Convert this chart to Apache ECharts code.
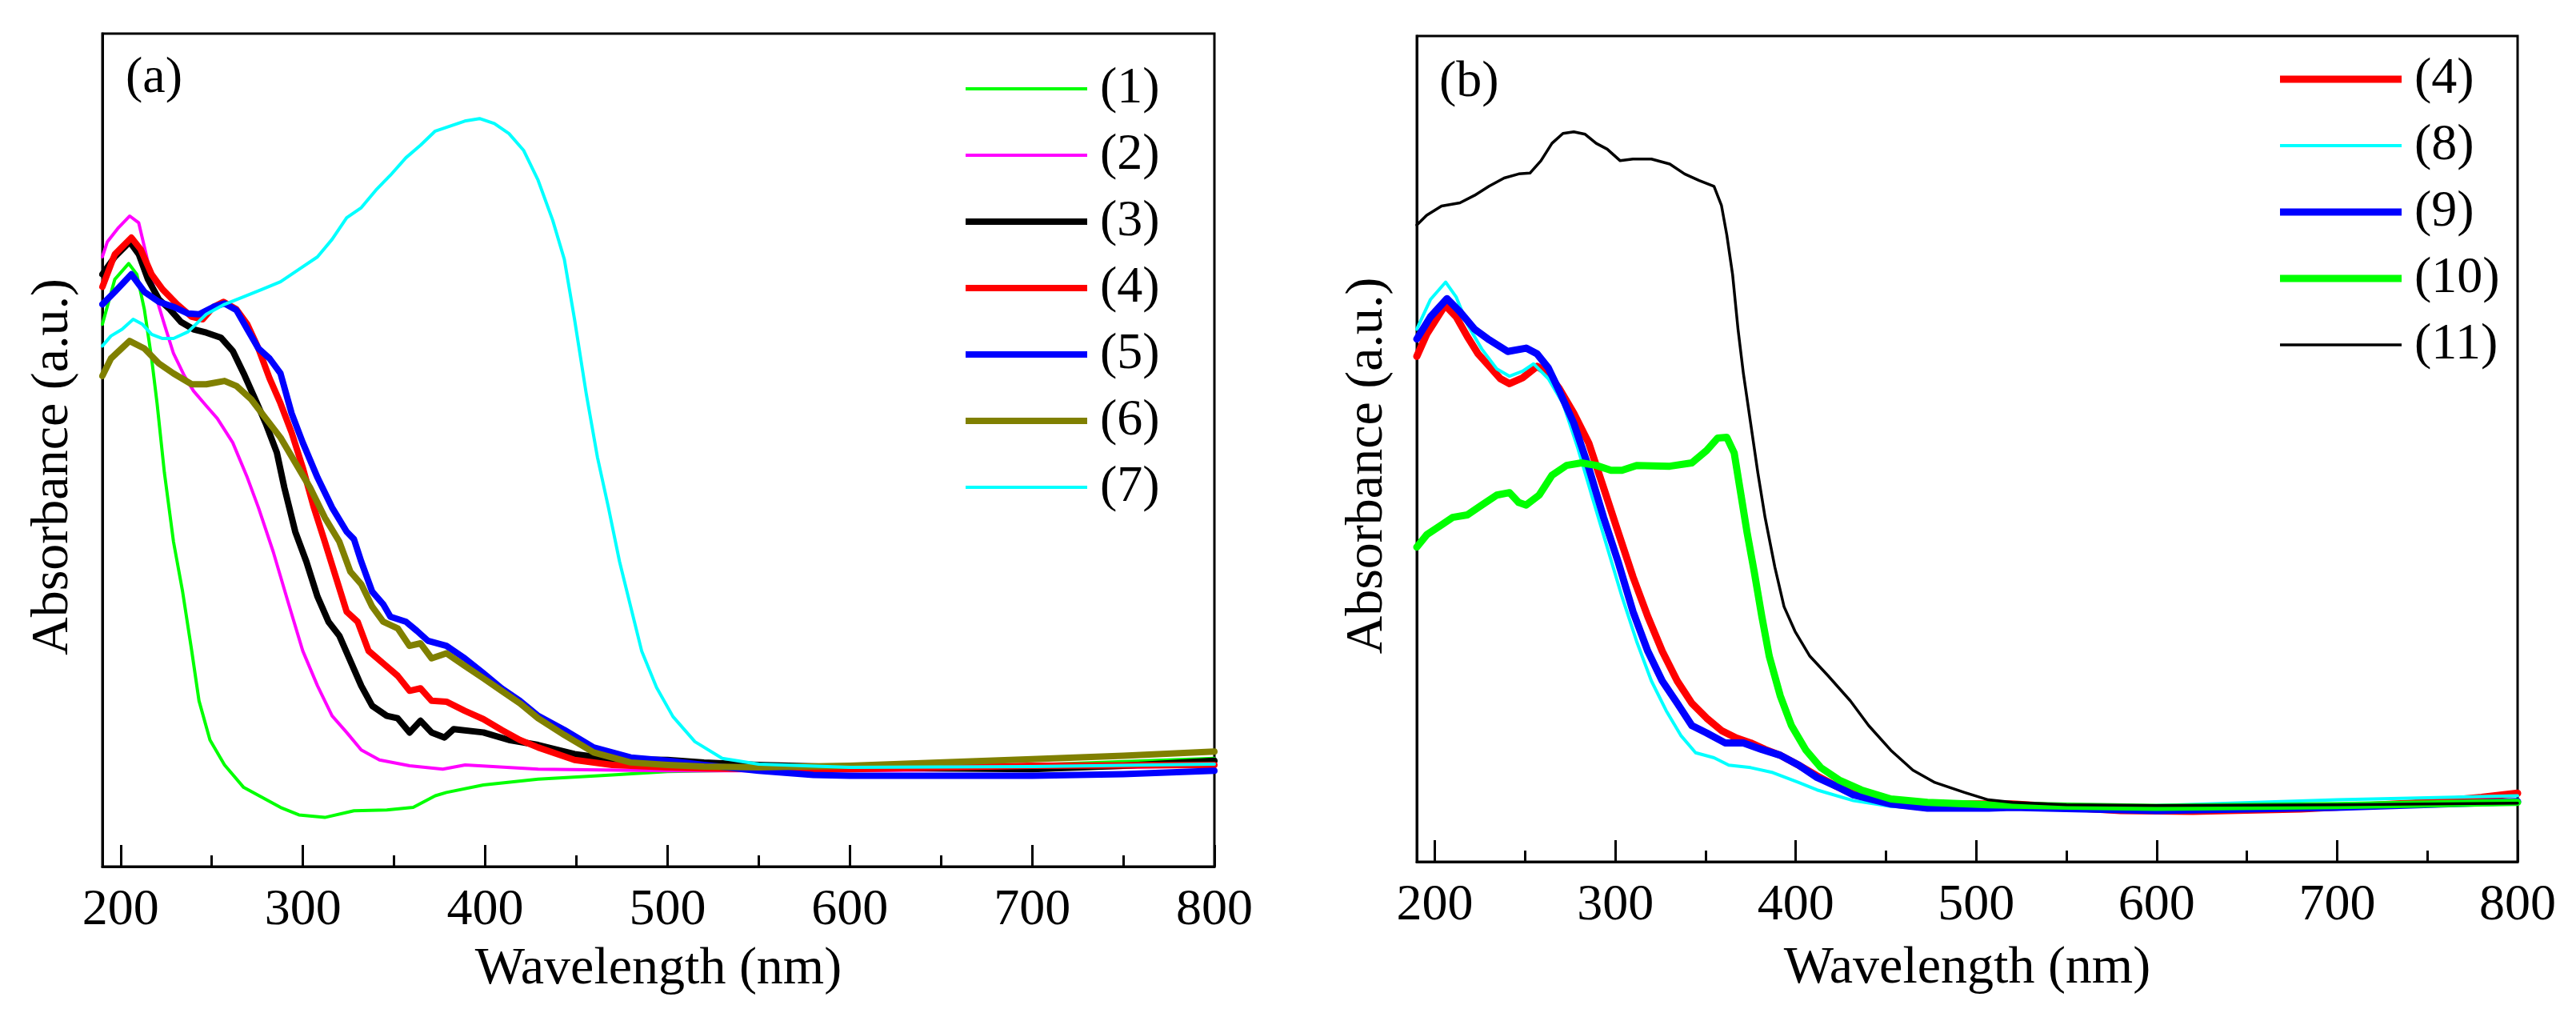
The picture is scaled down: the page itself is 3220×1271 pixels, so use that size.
<!DOCTYPE html>
<html>
<head>
<meta charset="utf-8">
<script src="https://cdn.jsdelivr.net/npm/echarts@6/dist/echarts.min.js"></script>
<style>html,body{margin:0;padding:0;background:#fff}#c{width:3220px;height:1271px}</style>
</head>
<body>
<div id="c"></div>
<script>
// ---------- data (wavelength nm, absorbance a.u.) ----------
const xTicks = [200, 300, 400, 500, 600, 700, 800];
const xMinorTicks = [250, 350, 450, 550, 650, 750];

// Panel (a)
const a1 = [[190,65.1],[196.8,70.5],[204.4,72.4],[208.9,71.1],[213,66.9],[217,61],[220,55.6],[224,47.3],[229,39],[234,33],[239,25.9],[243,19.9],[249,15.2],[257,12.2],[267.5,9.5],[277.6,8.3],[287.7,7.1],[297.8,6.2],[312,5.9],[328,6.7],[346,6.8],[360.5,7.1],[372.6,8.5],[378.7,8.9],[399,9.8],[429,10.5],[469.7,11],[500,11.4],[550,11.6],[600,11.8],[650,12],[700,12.2],[750,12.6],[800,13]];
const a2 = [[190,73.2],[192.7,75],[198.8,76.7],[205,78.1],[209.9,77.3],[214,73.5],[219,68.7],[224,65.1],[229,61.6],[235,58.9],[240,57.1],[247,55.3],[253,53.8],[261.5,50.9],[269.5,46.7],[275.6,43.1],[283.7,37.8],[291.8,31.8],[299.9,25.9],[308,21.7],[316,18.1],[324,16.1],[332,14],[342,12.8],[358.5,12.1],[376.7,11.7],[389,12.2],[429,11.7],[500,11.5],[600,11.5],[700,11.7],[800,12.1]];
const a3 = [[190,71.1],[196.8,73.2],[205,75],[210,73.5],[215,70.5],[221,68.1],[227,66.9],[233,65.4],[240,64.5],[247,64.1],[255,63.5],[261.5,61.9],[267.5,59.2],[273.6,56.2],[279.6,53.2],[285.7,49.7],[289.8,45.5],[295.8,40.2],[301.9,36.6],[308,32.4],[314,29.4],[320,27.7],[326,24.7],[332,21.7],[338,19.3],[346,18.1],[352,17.8],[358.5,16.1],[364.5,17.5],[370.6,16.1],[377.7,15.5],[382.7,16.5],[399,16.1],[413,15.2],[429,14.6],[449,13.5],[469.7,12.9],[500,12.8],[520,12.5],[550,12.2],[600,11.9],[650,11.8],[700,11.7],[750,12.1],[800,12.7]];
const a4 = [[190,69.6],[196.8,73.5],[205.9,75.5],[211,74.1],[217,71.1],[223,69.3],[231,67.5],[239,66],[245,65.7],[251,67.2],[256.4,67.8],[263.5,66.9],[269.5,65.1],[275.6,62.2],[281.7,58.6],[287.7,55.6],[293.8,52.1],[299.9,47.9],[306,43.1],[312,39],[318,34.8],[324,30.6],[330,29.4],[336,25.9],[344,24.4],[352,22.9],[358.5,21.1],[364.5,21.4],[370.6,19.9],[378.7,19.8],[388.8,18.7],[399,17.7],[409,16.4],[419,15.2],[429,14.3],[449,12.8],[469.7,12.2],[500,11.9],[520,11.8],[550,11.7],[600,11.7],[700,12.1],[800,12.2]];
const a5 = [[190,67.5],[196.8,69],[205.9,71.1],[213,69],[221,67.8],[229,67.2],[237,66.4],[243,66.3],[251,67.2],[257,67.6],[263.5,66.8],[269.5,64.5],[275.6,62.2],[281.7,61],[287.7,59.2],[293.8,54.4],[299.9,50.9],[308,46.7],[316,43.1],[324,40.2],[328,39.3],[332,36.6],[338,33],[344,31.5],[348,30],[356.5,29.4],[362.5,28.3],[368.6,27.1],[378.7,26.5],[388.8,25],[399,23.2],[409,21.4],[419,19.9],[429,18.1],[443.4,16.4],[459.5,14.3],[479.8,13.1],[500,12.7],[520,12.2],[550,11.5],[580,11],[600,10.9],[700,10.9],[750,11.1],[800,11.5]];
const a6 = [[190,58.9],[194.7,61],[204.9,63.1],[213,62.2],[221,60.4],[229,59.2],[239,57.9],[247,57.9],[257,58.3],[263.5,57.7],[271.6,56.1],[279.6,53.8],[287.7,51.5],[295.8,48.5],[303.9,45.5],[312,41.9],[320,39],[326,35.4],[332,33.9],[338,31.2],[344,29.4],[352,28.6],[358.5,26.5],[364.5,26.8],[370.6,25],[378.7,25.6],[388.8,24.1],[399,22.6],[409,21.1],[419,19.6],[429,17.8],[443.4,15.8],[459.5,13.7],[479.8,12.5],[500,12.2],[520,12],[550,11.9],[600,12.1],[700,12.9],[750,13.3],[800,13.8]];
const a7 = [[190,62.5],[194.7,63.7],[200.8,64.5],[206.9,65.7],[212,65.1],[217,63.9],[223,63.4],[229,63.4],[237,64.2],[247,66.3],[257,67.5],[267.5,68.4],[277.6,69.3],[287.7,70.2],[297.8,71.7],[308,73.2],[316,75.3],[324,77.9],[332,79.1],[340,81.2],[348,83],[356.5,85.1],[364.5,86.6],[372.6,88.3],[380.7,88.9],[388.8,89.5],[396.9,89.8],[405,89.2],[413,88],[421,86],[429,82.4],[437,77.6],[443.4,72.9],[449,65.7],[455.4,56.8],[461.6,49.1],[467.6,43.1],[473.7,36.6],[479.8,31.2],[485.8,25.9],[494,21.5],[503,18],[515,15],[530,13],[550,12.3],[600,11.9],[700,12],[800,12.3]];

// Panel (b)
const b4 = [[190,61.2],[195.5,63.9],[205.7,67.4],[211.8,66],[218,63.6],[224,61.5],[230.2,60],[236.3,58.5],[241.4,57.9],[248.6,58.6],[256.7,60],[262.9,59.1],[269,57.3],[277,54.3],[285.3,50.7],[293.5,45.3],[301.6,39.9],[309.8,34.5],[318,29.7],[326,25.5],[334.3,21.9],[342.4,19.2],[350.6,17.4],[358.8,15.9],[367,15],[375,14.4],[383,13.6],[391.4,12.9],[401.6,11.7],[411.8,10.4],[422,9.2],[432,8.2],[452.7,7],[473,6.6],[493.5,7],[507,7],[520,7],[550,6.6],[580,6.2],[620,6.1],[680,6.4],[750,7.2],[780,7.8],[800,8.3]];
const b8 = [[190,64.5],[197.6,68.1],[206,70.2],[211.8,68.4],[218,65.1],[226,62.1],[234.3,59.7],[241.4,58.8],[248.6,59.4],[254.7,60.3],[262.9,58.5],[271,55.5],[279.2,50.1],[287.3,44.1],[295.5,38.1],[303.7,32.1],[311.8,26.7],[320,21.9],[328.2,18.3],[336.3,15.3],[344.5,13.2],[354.7,12.6],[362.9,11.7],[375,11.4],[387.3,10.8],[401.6,9.6],[411.8,8.7],[432,7.4],[452.7,6.7],[473,6.5],[520,6.5],[560,6.5],[600,6.8],[700,7.5],[800,8]];
const b9 = [[190,63.3],[197.6,66],[206.7,68.2],[213.9,66.6],[222,64.5],[230.2,63.2],[240.4,61.8],[250.6,62.2],[256.7,61.5],[262.9,59.8],[269,57],[277,53.1],[285.3,47.7],[293.5,41.7],[301.6,36.3],[309.8,30.3],[318,25.5],[326,21.9],[334.3,19.2],[342.4,16.5],[350.6,15.6],[360.8,14.4],[371,14.4],[381.2,13.6],[391.4,12.9],[401.6,11.7],[411.8,10.2],[422,9.2],[432,8.1],[452.7,7],[473,6.5],[507,6.5],[520,6.6],[560,6.4],[600,6.2],[700,6.6],[800,7.3]];
const b10 = [[190,38.1],[195.5,39.6],[203.7,40.8],[209.8,41.7],[218,42],[226,43.2],[234.3,44.4],[241.4,44.7],[246.5,43.5],[250.6,43.2],[257.8,44.4],[264.9,46.8],[273,48],[281.2,48.3],[289.4,48],[297.6,47.4],[303.7,47.4],[311.8,48],[330.2,47.9],[342.4,48.3],[350.6,49.8],[356.7,51.3],[361.8,51.4],[365.9,49.5],[369,45.3],[373,39.9],[377,35.1],[381.2,29.7],[385.3,24.9],[391.4,20.1],[397.6,16.5],[405.7,13.5],[413.9,11.4],[424,9.9],[436.3,8.7],[452.7,7.6],[473,7.2],[507,6.9],[560,6.7],[600,6.6],[700,6.8],[800,7.2]];
const b11 = [[190,77.1],[195.5,78.3],[203.7,79.4],[213.9,79.8],[222,80.7],[230,81.8],[238.4,82.8],[246.5,83.3],[252.7,83.4],[258.8,84.9],[264.9,87],[271,88.2],[277,88.4],[283.3,88.1],[289.4,87],[295.5,86.3],[302.7,84.9],[309.8,85.1],[320,85.1],[330.2,84.5],[338.4,83.3],[346.5,82.5],[354.7,81.8],[358.8,79.5],[361.8,75.9],[365,71.1],[368,64.5],[371,59.1],[375,53.1],[379,47.1],[383,41.7],[388.4,35.7],[393.5,30.9],[399.6,27.9],[407.8,24.9],[418,22.5],[430.2,19.5],[440.4,16.5],[452.7,13.5],[464.9,11.1],[477.1,9.6],[493.5,8.4],[506.7,7.5],[520,7.2],[550,6.9],[600,6.8],[700,6.9],[800,7.1]];

const namesA = ['(1)', '(2)', '(3)', '(4)', '(5)', '(6)', '(7)'];
const namesB = ['(4)', '(8)', '(9)', '(10)', '(11)'];

// ---------- chart ----------
const FONT = 'Liberation Serif';
const chart = echarts.init(document.getElementById('c'), null, {renderer: 'canvas'});

function majorX(grid, nameGap) {
  return {
    type: 'value', gridIndex: grid, min: 190, max: 800, position: 'bottom',
    name: 'Wavelength (nm)', nameLocation: 'middle', nameGap: nameGap,
    nameTextStyle: {fontFamily: FONT, fontSize: 66, color: '#000'},
    axisLine: {show: true, lineStyle: {color: '#000', width: 3}},
    axisTick: {show: true, inside: true, length: 27, lineStyle: {color: '#000', width: 3}, customValues: xTicks},
    axisLabel: {show: true, margin: 23, fontFamily: FONT, fontSize: 64, color: '#000', customValues: xTicks},
    splitLine: {show: false}
  };
}
function minorX(grid) {
  return {
    type: 'value', gridIndex: grid, min: 190, max: 800, position: 'bottom',
    axisLine: {show: false},
    axisTick: {show: true, inside: true, length: 14, lineStyle: {color: '#000', width: 3}, customValues: xMinorTicks},
    axisLabel: {show: false},
    splitLine: {show: false}
  };
}
function yAx(grid) {
  return {
    type: 'value', gridIndex: grid, min: 0, max: 100,
    name: 'Absorbance (a.u.)', nameLocation: 'middle', nameGap: 28,
    nameTextStyle: {fontFamily: FONT, fontSize: 66, color: '#000', padding: [0, 42, 0, 0]},
    axisLine: {show: true, lineStyle: {color: '#000', width: 3}},
    axisTick: {show: false}, axisLabel: {show: false}, splitLine: {show: false}
  };
}
function ser(name, data, color, width, xi, yi) {
  return {
    name: name, type: 'line', data: data, xAxisIndex: xi, yAxisIndex: yi,
    showSymbol: false, symbol: 'none', silent: true,
    lineStyle: {color: color, width: width, cap: 'round', join: 'round'},
    itemStyle: {color: color}
  };
}
// legend icon: a horizontal bar as thick as the series line
function icon(name, w) {
  return {name: name, icon: 'path://M0,0H152V' + w + 'H0Z'};
}

const option = {
  backgroundColor: '#fff',
  animation: false,
  grid: [
    {left: 128, top: 42, width: 1390, height: 1041, show: true, borderColor: '#000', borderWidth: 3, backgroundColor: 'transparent'},
    {left: 1771, top: 45, width: 1376, height: 1032, show: true, borderColor: '#000', borderWidth: 3, backgroundColor: 'transparent'}
  ],
  title: [
    {text: '(a)', left: 157, top: 66, padding: 0, textStyle: {fontFamily: FONT, fontSize: 64, fontWeight: 'normal', color: '#000'}},
    {text: '(b)', left: 1799, top: 71, padding: 0, textStyle: {fontFamily: FONT, fontSize: 64, fontWeight: 'normal', color: '#000'}}
  ],
  legend: [
    {data: [icon('(1)', 4), icon('(2)', 4), icon('(3)', 8), icon('(4)', 8), icon('(5)', 8), icon('(6)', 8), icon('(7)', 4)],
     orient: 'vertical', left: 1207, top: 79, padding: 0, itemWidth: 152, itemHeight: 20, itemGap: 19, symbolKeepAspect: true,
     textStyle: {fontFamily: FONT, fontSize: 64, color: '#000', lineHeight: 64, padding: [0, 0, 0, 11]}, selectedMode: false},
    {data: [icon('(4)', 9), icon('(8)', 4), icon('(9)', 9), icon('(10)', 9), icon('(11)', 3.5)],
     orient: 'vertical', left: 2850, top: 67, padding: 0, itemWidth: 152, itemHeight: 20, itemGap: 19, symbolKeepAspect: true,
     textStyle: {fontFamily: FONT, fontSize: 64, color: '#000', lineHeight: 64, padding: [0, 0, 0, 11]}, selectedMode: false}
  ],
  xAxis: [majorX(0, 96), minorX(0), majorX(1, 101), minorX(1)],
  yAxis: [yAx(0), yAx(1)],
  series: [
    ser('(1)', a1, '#00FF00', 4, 0, 0),
    ser('(2)', a2, '#FF00FF', 4, 0, 0),
    ser('(3)', a3, '#000000', 8, 0, 0),
    ser('(4)', a4, '#FF0000', 8, 0, 0),
    ser('(5)', a5, '#0000FF', 8, 0, 0),
    ser('(6)', a6, '#808000', 8, 0, 0),
    ser('(7)', a7, '#00FFFF', 4, 0, 0),
    ser('(4)', b4, '#FF0000', 9, 2, 1),
    ser('(8)', b8, '#00FFFF', 4, 2, 1),
    ser('(9)', b9, '#0000FF', 9, 2, 1),
    ser('(10)', b10, '#00FF00', 9, 2, 1),
    ser('(11)', b11, '#000000', 3.5, 2, 1)
  ]
};
chart.setOption(option);
</script>
</body>
</html>
